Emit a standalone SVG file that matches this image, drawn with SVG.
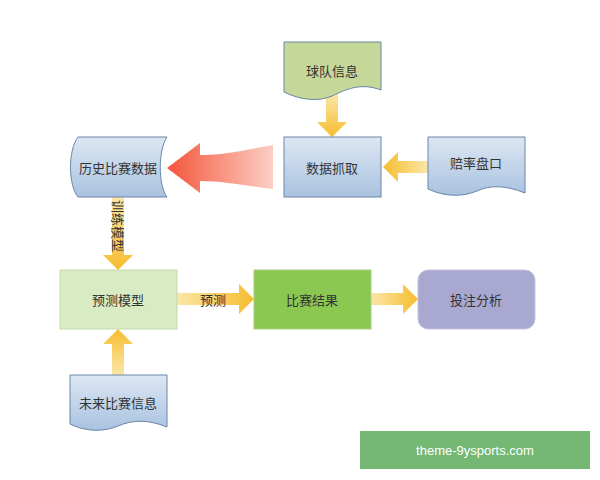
<svg xmlns="http://www.w3.org/2000/svg" width="600" height="480" viewBox="0 0 600 480">
<defs>
<linearGradient id="blue" x1="0" y1="0" x2="0" y2="1"><stop offset="0" stop-color="#dde7f3"/><stop offset="1" stop-color="#a9c2e0"/></linearGradient>
<linearGradient id="ydown" x1="0" y1="0" x2="0" y2="1"><stop offset="0" stop-color="#fbe6a8"/><stop offset="1" stop-color="#f6bd2e"/></linearGradient>
<linearGradient id="yup" x1="0" y1="1" x2="0" y2="0"><stop offset="0" stop-color="#fbe6a8"/><stop offset="1" stop-color="#f6bd2e"/></linearGradient>
<linearGradient id="yright" x1="0" y1="0" x2="1" y2="0"><stop offset="0" stop-color="#fbe6a8"/><stop offset="1" stop-color="#f6bd2e"/></linearGradient>
<linearGradient id="yleft" x1="1" y1="0" x2="0" y2="0"><stop offset="0" stop-color="#fbe6a8"/><stop offset="1" stop-color="#f6bd2e"/></linearGradient>
<linearGradient id="red" x1="1" y1="0" x2="0" y2="0"><stop offset="0" stop-color="#fccfc4"/><stop offset="1" stop-color="#f4553a"/></linearGradient>
</defs>
<style>
text{font-family:"Noto Sans CJK SC","Liberation Sans",sans-serif;font-size:13px;fill:#333;text-anchor:middle;dominant-baseline:central}
.b{stroke:#6a85a8;stroke-width:1}
</style>
<rect width="600" height="480" fill="#fff"/>
<g id="connectors">
<path d="M326,94 h12 v28 h9 l-15,15 l-15,-15 h9 z" fill="url(#ydown)"/>
<path d="M428,161 v12 h-30 v9 l-15,-15 l15,-15 v9 z" fill="url(#yleft)"/>
<path d="M273,145 v44 C245,186 225,181 200,181 v12 l-33,-25 l33,-25 v12 C225,155 245,150 273,145 z" fill="url(#red)"/>
<path d="M112,197 h12 v58 h9 l-15,15 l-15,-15 h9 z" fill="url(#ydown)"/>
<text transform="translate(118,226) rotate(90)" font-size="12">训练模型</text>
<path d="M177,293 h62 v-9 l15,15 l-15,15 v-9 h-62 z" fill="url(#yright)"/>
<text x="213" y="299" font-size="12">预测</text>
<path d="M371,293 h32 v-9 l15,15 l-15,15 v-9 h-32 z" fill="url(#yright)"/>
<path d="M112,375 v-31 h-9 l15,-15 l15,15 h-9 v31 z" fill="url(#yup)"/>
</g>
<g id="qdxx"><path class="b" d="M284,42 h97 v48 C360,82 345,90 332,96 C318,102 300,100 284,92 z" fill="#c5d89a"/><text x="332" y="70">球队信息</text></g>
<g id="sjzq"><rect class="b" x="284" y="137" width="97" height="60" fill="url(#blue)"/><text x="332" y="167">数据抓取</text></g>
<g id="plpk"><path class="b" d="M428,137 h97 v56 C505,185 490,185 477,191 C463,197 445,197 428,189 z" fill="url(#blue)"/><text x="476" y="162">赔率盘口</text></g>
<g id="lsbs"><path class="b" d="M78,137 h89 C158,150 158,185 167,197 h-89 C68,185 68,150 78,137 z" fill="url(#blue)"/><text x="118" y="167">历史比赛数据</text></g>
<g id="ycmx"><rect x="60" y="270" width="117" height="59" fill="#d8ebc2" stroke="#c5dba8"/><text x="118" y="299">预测模型</text></g>
<g id="bsjg"><rect x="254" y="270" width="117" height="59" fill="#8bc852" stroke="#a8d07e"/><text x="312" y="299">比赛结果</text></g>
<g id="tzfx"><rect x="418" y="270" width="117" height="59" rx="10" fill="#a9a8d0" stroke="#c5c4e0"/><text x="476" y="299">投注分析</text></g>
<g id="wlbs"><path class="b" d="M70,375 h97 v52 C147,419 132,420 118,426 C104,432 86,432 70,424 z" fill="url(#blue)"/><text x="118" y="402">未来比赛信息</text></g>
<g id="wm"><rect x="360" y="431" width="230" height="38" fill="#74b874"/><text x="475" y="450" font-size="15" style="fill:#fff;font-family:'Liberation Sans',sans-serif">theme-9ysports.com</text></g>
</svg>
